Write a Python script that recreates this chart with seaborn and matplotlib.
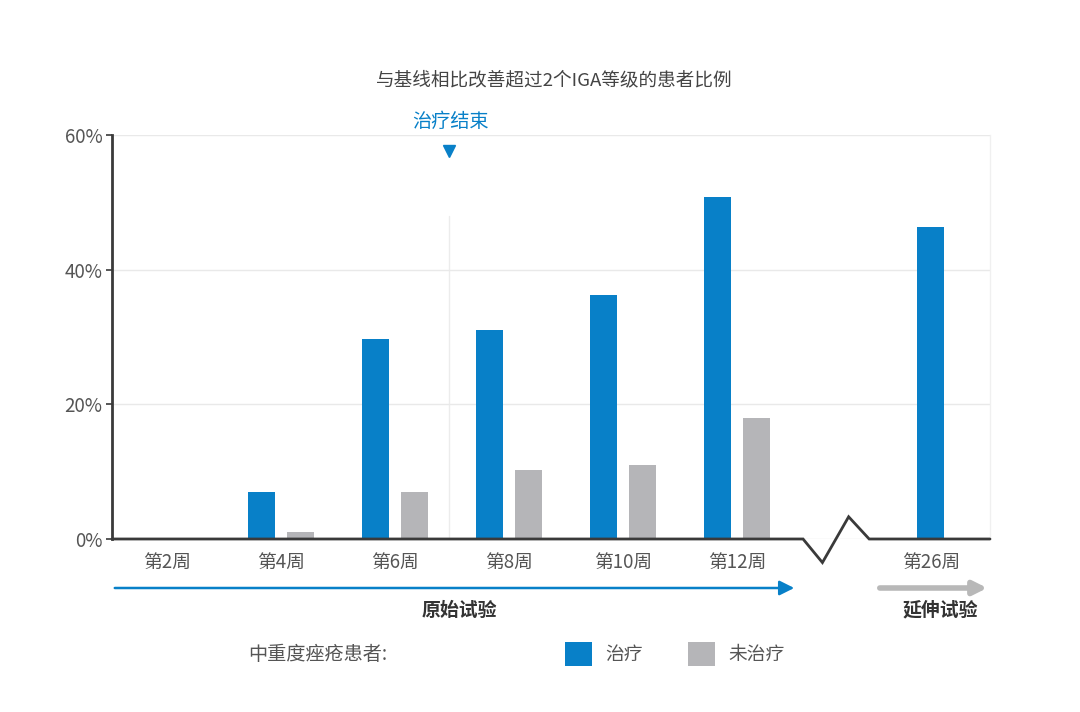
import numpy as np
import pandas as pd
import matplotlib
matplotlib.use("Agg")
import matplotlib.pyplot as plt
import seaborn as sns
from matplotlib.patches import Patch, FancyArrowPatch

# -----------------------------
# Data
# -----------------------------
weeks = ["第2周", "第4周", "第6周", "第8周", "第10周", "第12周", "第26周"]
week_pos = [0, 1, 2, 3, 4, 5, 6.7]          # week 26 sits after the axis break
treated = [0.0, 7.0, 29.7, 31.0, 36.3, 50.8, 46.4]
untreated = [0.0, 1.0, 7.0, 10.2, 11.0, 18.0]  # no untreated group at week 26
groups = ["治疗", "未治疗"]

title = "与基线相比改善超过2个IGA等级的患者比例"
end_label = "治疗结束"
legend_title = "中重度痤疮患者:"
phase_labels = ["原始试验", "延伸试验"]

BLUE = "#0880C8"
GREY = "#B5B5B8"
DARK = "#3a3a3a"
TEXT = "#555555"

# -----------------------------
# Long-form tables
# -----------------------------
n_orig = len(untreated)
df_orig = pd.DataFrame({
    "pos": week_pos[:n_orig] * 2,
    "group": [groups[0]] * n_orig + [groups[1]] * n_orig,
    "value": treated[:n_orig] + untreated,
})
df_ext = pd.DataFrame({
    "pos": week_pos[n_orig:],
    "group": [groups[0]] * (len(week_pos) - n_orig),
    "value": treated[n_orig:],
})

# -----------------------------
# Style
# -----------------------------
sns.set_theme(style="white")
plt.rcParams["font.family"] = ["Noto Sans CJK SC", "DejaVu Sans"]

fig = plt.figure(figsize=(10.8, 7.12), dpi=100)
ax = fig.add_axes([112 / 1080, 1 - 539 / 712, 878 / 1080, 404 / 712])

palette = {groups[0]: BLUE, groups[1]: GREY}
sns.barplot(data=df_orig, x="pos", y="value", hue="group", hue_order=groups,
            palette=palette, saturation=1, native_scale=True, dodge=True,
            width=0.693, gap=0.315, errorbar=None, linewidth=0, legend=False, ax=ax)
sns.barplot(data=df_ext, x="pos", y="value", color=BLUE, saturation=1,
            native_scale=True, width=0.237, errorbar=None, linewidth=0, ax=ax)

x_left, x_right = -0.482, 7.22
ax.set_xlim(x_left, x_right)
ax.set_ylim(0, 60)

# y axis
ax.set_yticks([0, 20, 40, 60])
ax.set_yticklabels([f"{v}%" for v in [0, 20, 40, 60]])
ax.tick_params(axis="y", which="major", left=True, length=4, width=1.2,
               color=DARK, labelcolor=TEXT, labelsize=13.5, pad=3)
ax.yaxis.grid(True, color="#e9e9e9", lw=1)
ax.set_axisbelow(True)

# x axis
ax.set_xticks(week_pos)
ax.set_xticklabels(weeks)
ax.tick_params(axis="x", bottom=False, labelcolor=TEXT, labelsize=13.5, pad=3)
ax.set_xlabel("")
ax.set_ylabel("")

for side in ["top", "bottom"]:
    ax.spines[side].set_visible(False)
ax.spines["left"].set_color(DARK)
ax.spines["left"].set_linewidth(2)
ax.spines["right"].set_color("#f0f0f0")
ax.spines["right"].set_linewidth(1)

# baseline with zig-zag axis break
brk = 5.87
ax.plot([x_left, brk - 0.29, brk - 0.12, brk + 0.11, brk + 0.29, x_right],
        [0, 0, -3.5, 3.3, 0, 0], color=DARK, lw=2, clip_on=False,
        solid_joinstyle="miter", zorder=5)

# end-of-treatment marker
end_x = 2.47
ax.plot([end_x, end_x], [0, 48], color="#ececec", lw=1, zorder=0)
ax.plot([end_x], [57.6], marker="v", color=BLUE, markersize=9, clip_on=False)
fig.text(450 / 1080, 1 - 121 / 712, end_label, color=BLUE, fontsize=13.8,
         ha="center", va="center")

# title
fig.text(554 / 1080, 1 - 80 / 712, title, color="#444444", fontsize=13.4,
         ha="center", va="center")

# phase arrows
arrow_y = 1 - 588 / 712
fig.add_artist(FancyArrowPatch(
    (112 / 1080, arrow_y), (797 / 1080, arrow_y), transform=fig.transFigure,
    arrowstyle="-|>", mutation_scale=22, color=BLUE, lw=1.8))
fig.add_artist(FancyArrowPatch(
    (877 / 1080, arrow_y), (990 / 1080, arrow_y), transform=fig.transFigure,
    arrowstyle="-|>", mutation_scale=20, color="#b8b8b8", lw=4))
fig.text(459 / 1080, 1 - 610 / 712, phase_labels[0], color="#333333",
         fontsize=13.6, fontweight="bold", ha="center", va="center")
fig.text(940 / 1080, 1 - 610 / 712, phase_labels[1], color="#333333",
         fontsize=13.6, fontweight="bold", ha="center", va="center")

# legend
fig.text(248 / 1080, 1 - 655 / 712, legend_title, color=TEXT, fontsize=13.8,
         ha="left", va="center")
handles = [Patch(facecolor=palette[g], edgecolor="none", label=g) for g in groups]
leg = fig.legend(handles=handles, loc="center left",
                 bbox_to_anchor=(565 / 1080, 1 - 654 / 712), ncol=2, frameon=False,
                 fontsize=13.5, handlelength=1.45, handleheight=1.55,
                 handletextpad=0.7, columnspacing=2.4, borderpad=0,
                 borderaxespad=0)
for t in leg.get_texts():
    t.set_color(TEXT)

fig.savefig("out.png", dpi=100, facecolor="white")
